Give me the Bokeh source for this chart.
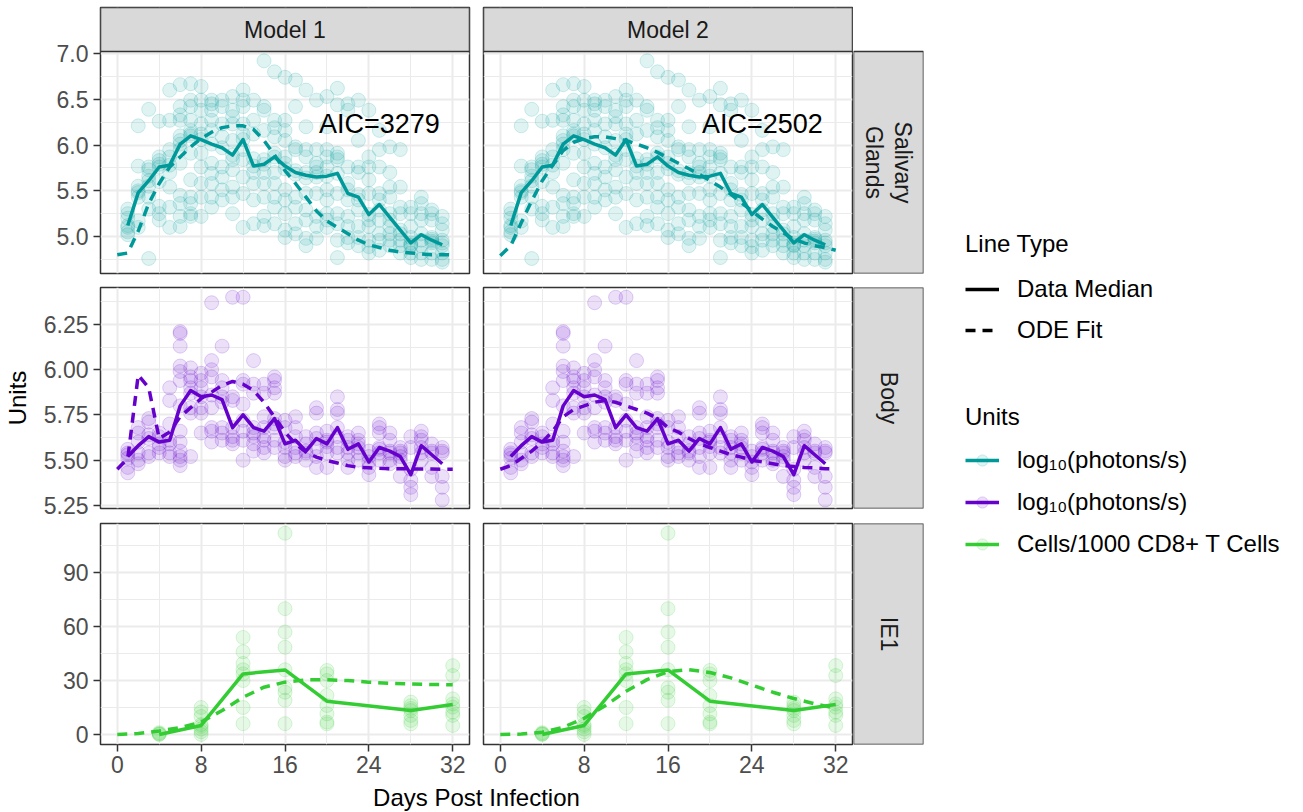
import numpy as np
from bokeh.plotting import figure
from bokeh.models import (Range1d, FixedTicker, PrintfTickFormatter, LinearAxis, Grid,
                          ColumnDataSource, Legend, LegendItem, Label, BoxAnnotation)
from bokeh.layouts import row, column
from bokeh.embed import file_html
from bokeh.resources import INLINE
from bokeh.core.properties import value

FONT = "Liberation Sans"

# ---------------- data ----------------
models = ["Model 1", "Model 2"]
compartments = ["Salivary\nGlands", "Body", "IE1"]
aic_labels = ["AIC=3279", "AIC=2502"]
aic_x = [25, 25]
aic_y = [6.23, 6.23]
linetype_labels = ["Data Median", "ODE Fit"]
unit_labels = ["log\u2081\u2080(photons/s)", "log\u2081\u2080(photons/s)", "Cells/1000 CD8+ T Cells"]
colors = ["#009999", "#6600CC", "#33CC33"]

x_ticks = [0, 8, 16, 24, 32]
x_minor = [4, 12, 20, 28]

days_daily = list(range(1, 32))
ode_days = list(range(0, 33))
ie1_days = [4, 8, 12, 16, 20, 28, 32]
ie1_ode_days = list(range(0, 33, 2))

# Salivary glands (log10 photons/s)
sg_median = [5.12, 5.48, 5.61, 5.76, 5.78, 6.01, 6.10, 6.06, 6.01, 5.97, 5.89, 6.06, 5.77, 5.79,
             5.87, 5.77, 5.70, 5.67, 5.65, 5.66, 5.69, 5.47, 5.43, 5.24, 5.35, 5.21, 5.07, 4.93,
             5.02, 4.96, 4.91]
sg_ode_m1 = [4.80, 4.82, 5.06, 5.36, 5.58, 5.76, 5.87, 5.98, 6.07, 6.14, 6.19, 6.21, 6.21, 6.17,
             6.05, 5.89, 5.72, 5.58, 5.43, 5.28, 5.17, 5.10, 5.03, 4.96, 4.91, 4.88, 4.85, 4.83,
             4.82, 4.81, 4.80, 4.80, 4.80]
sg_ode_m2 = [4.79, 4.90, 5.15, 5.39, 5.61, 5.78, 5.94, 6.03, 6.07, 6.09, 6.09, 6.07, 6.05, 6.01,
             5.97, 5.92, 5.86, 5.80, 5.74, 5.68, 5.61, 5.54, 5.46, 5.37, 5.28, 5.19, 5.11, 5.04,
             4.97, 4.93, 4.90, 4.88, 4.85]
sg_obs = [
    [5.02, 5.05, 5.10, 5.12, 5.20, 5.25, 5.30],
    [6.21, 5.77, 5.55, 5.50, 5.48, 5.43, 5.17, 5.10],
    [6.39, 5.76, 5.73, 5.66, 5.61, 5.55, 5.43, 5.30, 4.76],
    [6.26, 5.87, 5.83, 5.79, 5.76, 5.60, 5.33, 5.25, 5.18],
    [6.60, 6.27, 5.95, 5.87, 5.78, 5.70, 5.54, 5.32, 5.10],
    [6.66, 6.42, 6.33, 6.27, 6.10, 6.05, 6.01, 5.95, 5.80, 5.45, 5.36, 5.22, 5.11],
    [6.67, 6.49, 6.42, 6.27, 6.16, 6.12, 6.10, 5.91, 5.62, 5.43, 5.36, 5.25, 5.22],
    [6.64, 6.49, 6.38, 6.23, 6.12, 6.06, 5.91, 5.76, 5.58, 5.43, 5.22],
    [6.49, 6.45, 6.38, 6.27, 6.16, 6.01, 5.80, 5.69, 5.58, 5.43, 5.32],
    [6.49, 6.42, 6.23, 6.09, 5.97, 5.76, 5.65, 5.51, 5.40],
    [6.53, 6.38, 6.31, 6.23, 6.05, 5.89, 5.84, 5.73, 5.54, 5.43, 5.25],
    [6.60, 6.49, 6.42, 6.23, 6.12, 6.06, 5.95, 5.84, 5.65, 5.47, 5.10],
    [6.49, 6.27, 6.12, 5.85, 5.77, 5.70, 5.58, 5.40, 5.14],
    [6.92, 6.42, 6.38, 6.16, 5.84, 5.79, 5.70, 5.58, 5.43, 5.22, 5.12],
    [6.80, 6.27, 6.19, 6.09, 5.91, 5.87, 5.70, 5.58, 5.43, 5.32, 5.14],
    [6.74, 6.27, 6.16, 6.05, 5.87, 5.80, 5.74, 5.51, 5.40, 5.25, 5.07, 4.99],
    [6.71, 6.42, 5.98, 5.95, 5.72, 5.68, 5.43, 5.32, 5.14, 5.03],
    [6.60, 6.20, 5.95, 5.87, 5.70, 5.64, 5.47, 5.29, 5.18, 4.98, 4.90],
    [6.49, 5.95, 5.80, 5.76, 5.70, 5.65, 5.47, 5.22, 5.11, 4.98],
    [6.53, 6.20, 5.95, 5.87, 5.76, 5.66, 5.51, 5.40, 5.25, 5.18, 5.10],
    [6.62, 6.44, 5.91, 5.87, 5.84, 5.69, 5.47, 5.25, 5.14, 4.96, 4.77],
    [6.45, 6.38, 5.76, 5.58, 5.51, 5.40, 5.22, 5.11, 4.99, 4.93],
    [6.49, 6.05, 5.76, 5.70, 5.46, 5.40, 5.29, 5.11, 4.99, 4.90],
    [6.38, 5.87, 5.76, 5.62, 5.47, 5.24, 5.18, 5.11, 4.96, 4.89, 4.82],
    [6.16, 5.95, 5.76, 5.47, 5.40, 5.29, 5.18, 5.03, 4.96, 4.85],
    [5.98, 5.70, 5.54, 5.43, 5.25, 5.18, 5.11, 5.03, 4.96, 4.90],
    [5.95, 5.54, 5.32, 5.25, 5.07, 5.03, 4.96, 4.90, 4.82],
    [5.32, 5.25, 5.11, 4.99, 4.93, 4.91, 4.90, 4.82, 4.77],
    [5.43, 5.36, 5.25, 5.18, 5.03, 4.96, 4.90, 4.82, 4.75],
    [5.29, 5.25, 5.18, 4.99, 4.97, 4.95, 4.93, 4.82, 4.75],
    [5.22, 5.14, 5.07, 4.96, 4.93, 4.90, 4.82, 4.75, 4.72],
]

# Body (log10 photons/s)
body_median = [5.52, 5.58, 5.63, 5.60, 5.61, 5.80, 5.885, 5.85, 5.86, 5.835, 5.68, 5.75, 5.68,
               5.66, 5.73, 5.59, 5.61, 5.55, 5.62, 5.59, 5.68, 5.56, 5.59, 5.49, 5.57, 5.55,
               5.52, 5.42, 5.58, 5.53, 5.48]
body_ode_m1 = [5.45, 5.51, 5.97, 5.90, 5.62, 5.655, 5.74, 5.79, 5.84, 5.876, 5.913, 5.935, 5.92,
               5.885, 5.82, 5.738, 5.655, 5.59, 5.544, 5.517, 5.498, 5.484, 5.47, 5.46, 5.458,
               5.455, 5.453, 5.452, 5.452, 5.451, 5.451, 5.45, 5.45]
body_ode_m2 = [5.45, 5.47, 5.51, 5.55, 5.60, 5.66, 5.74, 5.78, 5.80, 5.82, 5.83, 5.82, 5.80,
               5.78, 5.76, 5.73, 5.68, 5.655, 5.62, 5.59, 5.57, 5.55, 5.53, 5.517, 5.50, 5.49,
               5.48, 5.47, 5.465, 5.46, 5.458, 5.452, 5.452]
body_obs = [
    [5.56, 5.54, 5.53, 5.51, 5.46, 5.43],
    [5.68, 5.65, 5.60, 5.54, 5.50, 5.48],
    [5.73, 5.71, 5.64, 5.62, 5.54, 5.52],
    [5.65, 5.63, 5.59, 5.57, 5.54],
    [5.90, 5.83, 5.70, 5.61, 5.59, 5.54, 5.52],
    [6.21, 6.20, 6.13, 6.02, 5.99, 5.94, 5.80, 5.66, 5.60, 5.55, 5.52, 5.50, 5.47],
    [6.01, 5.96, 5.94, 5.90, 5.87, 5.79, 5.76, 5.52],
    [5.98, 5.94, 5.90, 5.85, 5.79, 5.76, 5.65],
    [6.37, 6.05, 6.00, 5.96, 5.86, 5.79, 5.68, 5.66, 5.60],
    [6.13, 5.94, 5.90, 5.85, 5.82, 5.68, 5.65, 5.61],
    [6.40, 5.85, 5.83, 5.68, 5.63, 5.61, 5.59],
    [6.40, 5.94, 5.92, 5.81, 5.72, 5.66, 5.61, 5.50],
    [6.05, 5.92, 5.87, 5.68, 5.65, 5.63, 5.59, 5.55],
    [5.92, 5.87, 5.74, 5.68, 5.63, 5.61, 5.57, 5.54],
    [5.96, 5.94, 5.90, 5.87, 5.73, 5.70, 5.68, 5.61, 5.57],
    [5.72, 5.68, 5.60, 5.57, 5.52, 5.50],
    [5.74, 5.68, 5.63, 5.57, 5.54, 5.52],
    [5.63, 5.59, 5.55, 5.54, 5.50],
    [5.79, 5.76, 5.65, 5.62, 5.57, 5.52, 5.46],
    [5.66, 5.61, 5.60, 5.575, 5.54, 5.46],
    [5.85, 5.78, 5.76, 5.68, 5.63, 5.57, 5.54],
    [5.63, 5.61, 5.57, 5.54, 5.50, 5.46],
    [5.65, 5.61, 5.59, 5.57, 5.54, 5.50],
    [5.55, 5.52, 5.49, 5.46, 5.42],
    [5.70, 5.68, 5.65, 5.57, 5.56, 5.54, 5.50],
    [5.65, 5.61, 5.55, 5.54, 5.50, 5.48],
    [5.57, 5.55, 5.54, 5.52, 5.50, 5.41],
    [5.63, 5.57, 5.45, 5.39, 5.35, 5.31],
    [5.66, 5.63, 5.61, 5.57, 5.54, 5.50],
    [5.59, 5.55, 5.54, 5.46, 5.41],
    [5.57, 5.55, 5.54, 5.41, 5.35, 5.28],
]

# IE1 (cells / 1000 CD8+ T cells)
ie1_median = [0.0, 5.0, 33.7, 35.9, 18.5, 13.3, 16.7]
ie1_ode_m1 = [0.0, 0.5, 1.9, 3.8, 6.9, 13.3, 20.7, 26.3, 29.1, 30.4, 30.4, 30.0, 29.1, 28.5,
              28.1, 27.8, 27.6]
ie1_ode_m2 = [0.0, 0.2, 1.2, 4.0, 9.0, 16.0, 24.0, 30.5, 35.0, 36.0, 34.5, 31.5, 27.5, 23.5,
              20.0, 17.0, 14.5]
ie1_obs = [
    [0.0, 0.2, 0.5, 1.0],
    [15.0, 12.5, 10.0, 5.5, 4.5, 3.0, 1.5, 0.0],
    [54.0, 46.0, 39.5, 36.0, 33.7, 30.0, 15.0, 6.0],
    [112.0, 70.0, 57.0, 48.5, 36.0, 26.0, 23.5, 19.0, 6.0],
    [35.6, 33.7, 30.0, 21.7, 16.1, 11.5, 6.9, 5.9],
    [18.0, 16.0, 14.5, 13.3, 10.6, 7.8, 5.9],
    [38.3, 32.8, 19.8, 17.0, 15.2, 12.4, 10.6, 5.0],
]

sg_yticks = [5.0, 5.5, 6.0, 6.5, 7.0]
sg_yminor = [4.75, 5.25, 5.75, 6.25, 6.75]
body_yticks = [5.25, 5.5, 5.75, 6.0, 6.25]
body_yminor = [5.375, 5.625, 5.875, 6.125, 6.375]
ie1_yticks = [0, 30, 60, 90]
ie1_yminor = [15, 45, 75, 105]

# ---------------- layout / style ----------------
X_LO, X_HI = -1.6, 33.6
ROW_H = [280, 238, 264]
ROW_TOP = [7, 7, 5]
ROW_BOT = [7, 10, 38]
STRIP_PX = 44          # height of the top facet strip (inside the first-row frames)
PANEL_PX = 222         # height of a first-row panel
STRIP_FRAC = PANEL_PX / (PANEL_PX + STRIP_PX)

SG_LO, SG_HI = 4.596, 7.022
SG_TOP = SG_HI + (SG_HI - SG_LO) * STRIP_PX / PANEL_PX   # range top incl. strip band

ROWS = [
    dict(yr=(SG_LO, SG_TOP), yt=sg_yticks, ym=sg_yminor, fmt="%.1f", days=days_daily,
         obs=sg_obs, med=sg_median, odays=ode_days, ode=[sg_ode_m1, sg_ode_m2]),
    dict(yr=(5.233, 6.454), yt=body_yticks, ym=body_yminor, fmt="%.2f", days=days_daily,
         obs=body_obs, med=body_median, odays=ode_days, ode=[body_ode_m1, body_ode_m2]),
    dict(yr=(-5.6, 117.4), yt=ie1_yticks, ym=ie1_yminor, fmt="%d", days=ie1_days,
         obs=ie1_obs, med=ie1_median, odays=ie1_ode_days, ode=[ie1_ode_m1, ie1_ode_m2]),
]

AX = dict(axis_line_color=None, major_tick_line_color="#333333", major_tick_line_width=1.5,
          major_tick_in=0, major_tick_out=7, minor_tick_line_color=None,
          major_label_text_font=FONT, major_label_text_font_size="23px",
          major_label_text_color="#4D4D4D")


def base_fig(width, height, xr, yr, mbl, mbr, mbt, mbb):
    f = figure(width=width, height=height, x_range=xr, y_range=yr,
               x_axis_location=None, y_axis_location=None,
               toolbar_location=None, output_backend="svg",
               min_border_left=mbl, min_border_right=mbr,
               min_border_top=mbt, min_border_bottom=mbb)
    f.grid.visible = False
    f.background_fill_color = "white"
    f.border_fill_color = "white"
    return f


def make_panel(ri, ci):
    cfg = ROWS[ri]
    left = ci == 0
    bottom = ri == 2
    c = colors[ri]
    p = base_fig(476 if left else 377, ROW_H[ri], Range1d(X_LO, X_HI), Range1d(*cfg["yr"]),
                 100 if left else 7, 7 if left else 1, ROW_TOP[ri], ROW_BOT[ri])
    p.outline_line_color = "#333333"
    p.outline_line_width = 1.5
    xt = FixedTicker(ticks=x_ticks, minor_ticks=x_minor)
    yt = FixedTicker(ticks=cfg["yt"], minor_ticks=cfg["ym"])
    for dim, t in ((0, xt), (1, yt)):
        p.add_layout(Grid(dimension=dim, ticker=t, grid_line_color="#EBEBEB", grid_line_width=2,
                          minor_grid_line_color="#EBEBEB", minor_grid_line_width=1))
    if left:
        ax = LinearAxis(ticker=FixedTicker(ticks=cfg["yt"]),
                        formatter=PrintfTickFormatter(format=cfg["fmt"]),
                        major_label_standoff=5, **AX)
        if ri == 1:
            ax.axis_label = "Units"
            ax.axis_label_text_font = FONT
            ax.axis_label_text_font_size = "24px"
            ax.axis_label_text_font_style = "normal"
            ax.axis_label_text_color = "black"
            ax.axis_label_standoff = 10
        p.add_layout(ax, "left")
    if bottom:
        ax = LinearAxis(ticker=FixedTicker(ticks=x_ticks),
                        formatter=PrintfTickFormatter(format="%d"),
                        major_label_standoff=4, **AX)
        p.add_layout(ax, "below")

    xs = [d for d, vals in zip(cfg["days"], cfg["obs"]) for _ in vals]
    ys = [v for vals in cfg["obs"] for v in vals]
    p.scatter(xs, ys, marker="circle", size=14, fill_color=c, fill_alpha=0.12,
              line_color=c, line_alpha=0.18, line_width=1)
    p.line(cfg["days"], cfg["med"], line_color=c, line_width=3.5, line_join="round")
    p.line(cfg["odays"], cfg["ode"][ci], line_color=c, line_width=3.5, line_dash="10 7")
    if ri == 0:
        src = ColumnDataSource(dict(x=[aic_x[ci]], y=[aic_y[ci]], t=[aic_labels[ci]]))
        p.text(x="x", y="y", text="t", source=src, text_font=value(FONT),
               text_font_size="27px", text_align="center", text_baseline="middle",
               text_color="black")
        # facet strip on top of the first-row panels
        p.add_layout(BoxAnnotation(bottom=SG_HI, fill_color="#D9D9D9", fill_alpha=1.0,
                                   line_color="#333333", line_width=1.5, line_alpha=1.0))
        p.add_layout(Label(x=(X_LO + X_HI) / 2, y=(SG_HI + SG_TOP) / 2, text=models[ci],
                           text_font=FONT, text_font_size="23px", text_color="#1A1A1A",
                           text_align="center", text_baseline="middle"))
    return p


def make_strip(label, width, height, mbl, mbr, mbt, mbb, angle, frac):
    s = base_fig(width, height, Range1d(0, 1), Range1d(0, 1), mbl, mbr, mbt, mbb)
    s.outline_line_color = None
    s.add_layout(BoxAnnotation(top=frac, fill_color="#D9D9D9", fill_alpha=1.0,
                               line_color="#333333", line_width=1.5, line_alpha=1.0))
    s.add_layout(Label(x=0.5, y=frac / 2, text=label, angle=angle, text_font=FONT,
                       text_font_size="23px", text_align="center", text_baseline="middle",
                       text_color="#1A1A1A", text_line_height=1.1))
    return s


panel_rows = []
for ri in range(3):
    frac = STRIP_FRAC if ri == 0 else 1.0
    panel_rows.append(row(
        make_panel(ri, 0),
        make_panel(ri, 1),
        make_strip(compartments[ri], 71, ROW_H[ri], 0, 1, ROW_TOP[ri], ROW_BOT[ri],
                   -np.pi / 2, frac),
    ))

cap = base_fig(924, 30, Range1d(0, 924), Range1d(0, 30), 0, 0, 0, 0)
cap.outline_line_color = None
cap.add_layout(Label(x=476, y=15, text="Days Post Infection", text_font=FONT,
                     text_font_size="24px", text_align="center", text_baseline="middle",
                     text_color="black"))

# ---------------- legend ----------------
lf = base_fig(379, 812, Range1d(0, 1), Range1d(0, 1), 0, 0, 0, 0)
lf.outline_line_color = None
nan2 = np.array([np.nan, np.nan])
r_solid = lf.line(nan2, nan2, line_color="black", line_width=3.5)
r_dash = lf.line(nan2, nan2, line_color="black", line_width=3.5, line_dash="10 7")
unit_items = []
for lab, c in zip(unit_labels, colors):
    rl = lf.line(nan2, nan2, line_color=c, line_width=3.5)
    rp = lf.scatter(nan2, nan2, marker="circle", size=14, fill_color=c, fill_alpha=0.12,
                    line_color=c, line_alpha=0.18)
    unit_items.append(LegendItem(label=lab, renderers=[rl, rp]))

LEG = dict(label_text_font=FONT, label_text_font_size="24px", label_text_color="black",
           title_text_font=FONT, title_text_font_size="24px", title_text_font_style="normal",
           title_text_color="black", glyph_width=34, glyph_height=28, label_height=28,
           label_standoff=18, padding=0, margin=0, border_line_color=None,
           background_fill_alpha=0)
leg1 = Legend(items=[LegendItem(label=linetype_labels[0], renderers=[r_solid]),
                     LegendItem(label=linetype_labels[1], renderers=[r_dash])],
              title="Line Type", location=(41, 468), spacing=13, title_standoff=17, **LEG)
leg2 = Legend(items=unit_items, title="Units", location=(41, 254), spacing=14,
              title_standoff=15, **LEG)
lf.add_layout(leg1)
lf.add_layout(leg2)

layout = row(column(*panel_rows, cap), lf)

open("out.html", "w").write(file_html(layout, INLINE))
